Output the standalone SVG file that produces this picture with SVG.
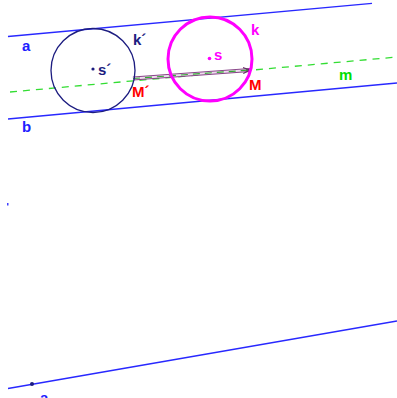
<svg xmlns="http://www.w3.org/2000/svg" width="397" height="398" viewBox="0 0 397 398">
<style>
.ln{stroke:#2828ff;stroke-width:1.3;fill:none}
.lbl{font-family:"Liberation Sans",Arial,sans-serif;font-weight:bold;font-size:15px}
</style>
<defs>
<marker id="ah" markerWidth="8" markerHeight="8" refX="7" refY="4" orient="auto" markerUnits="userSpaceOnUse">
<path d="M0,1 L7,4 L0,7" fill="none" stroke="#663366" stroke-width="1.2"/>
</marker>
</defs>
<rect width="397" height="398" fill="#ffffff"/>
<g id="connectors">
<line id="line-a" class="ln" x1="8" y1="36.5" x2="372" y2="3.3"/>
<line id="line-b" class="ln" x1="8" y1="119" x2="397" y2="83"/>
<line id="line-a2" class="ln" x1="8" y1="388.5" x2="397" y2="321"/>
<line id="line-m" x1="10" y1="92" x2="397" y2="57" stroke="#33dd33" stroke-width="1.3" stroke-dasharray="7,6"/>
<g id="vector">
<line x1="133" y1="78.5" x2="250" y2="70" stroke="#884488" stroke-width="4"/>
<line x1="133" y1="78.5" x2="246" y2="70.3" stroke="#eeddee" stroke-width="2"/>
<line x1="133" y1="78.5" x2="250" y2="70" stroke="#33aa33" stroke-width="1.2" stroke-dasharray="7,5" marker-end="url(#ah)"/>
</g>
</g>
<g id="k-prime">
<circle cx="93" cy="70.5" r="42" fill="none" stroke="#1c1c80" stroke-width="1.3"/>
<circle cx="93" cy="69" r="1.6" fill="#1c1c80"/>
<text class="lbl" x="98" y="75" fill="#1c1c80">s´</text>
<text class="lbl" x="133" y="45" fill="#1c1c80">k´</text>
</g>
<g id="k">
<circle cx="210" cy="59" r="42" fill="none" stroke="#ff00ff" stroke-width="3"/>
<circle cx="209.5" cy="58.5" r="1.8" fill="#ff00ff"/>
<text class="lbl" x="214" y="60" fill="#ff00ff">s</text>
<text class="lbl" x="251" y="35" fill="#ff00ff">k</text>
</g>
<g id="M-prime"><text class="lbl" x="132" y="97" fill="#ff0000">M´</text></g>
<g id="M"><text class="lbl" x="249" y="90" fill="#ff0000">M</text></g>
<g id="label-a"><text class="lbl" x="22" y="51" fill="#2020ff">a</text></g>
<g id="label-b"><text class="lbl" x="22" y="132" fill="#2020ff">b</text></g>
<g id="label-m"><text class="lbl" x="339" y="80" fill="#00dd00">m</text></g>
<g id="point-a"><circle cx="32" cy="384" r="2" fill="#1c1c80"/><text class="lbl" x="40" y="403" fill="#2020ff">a</text></g>
<g id="mark"><rect x="7" y="203" width="1.5" height="2.5" fill="#4040ff"/></g>
</svg>
